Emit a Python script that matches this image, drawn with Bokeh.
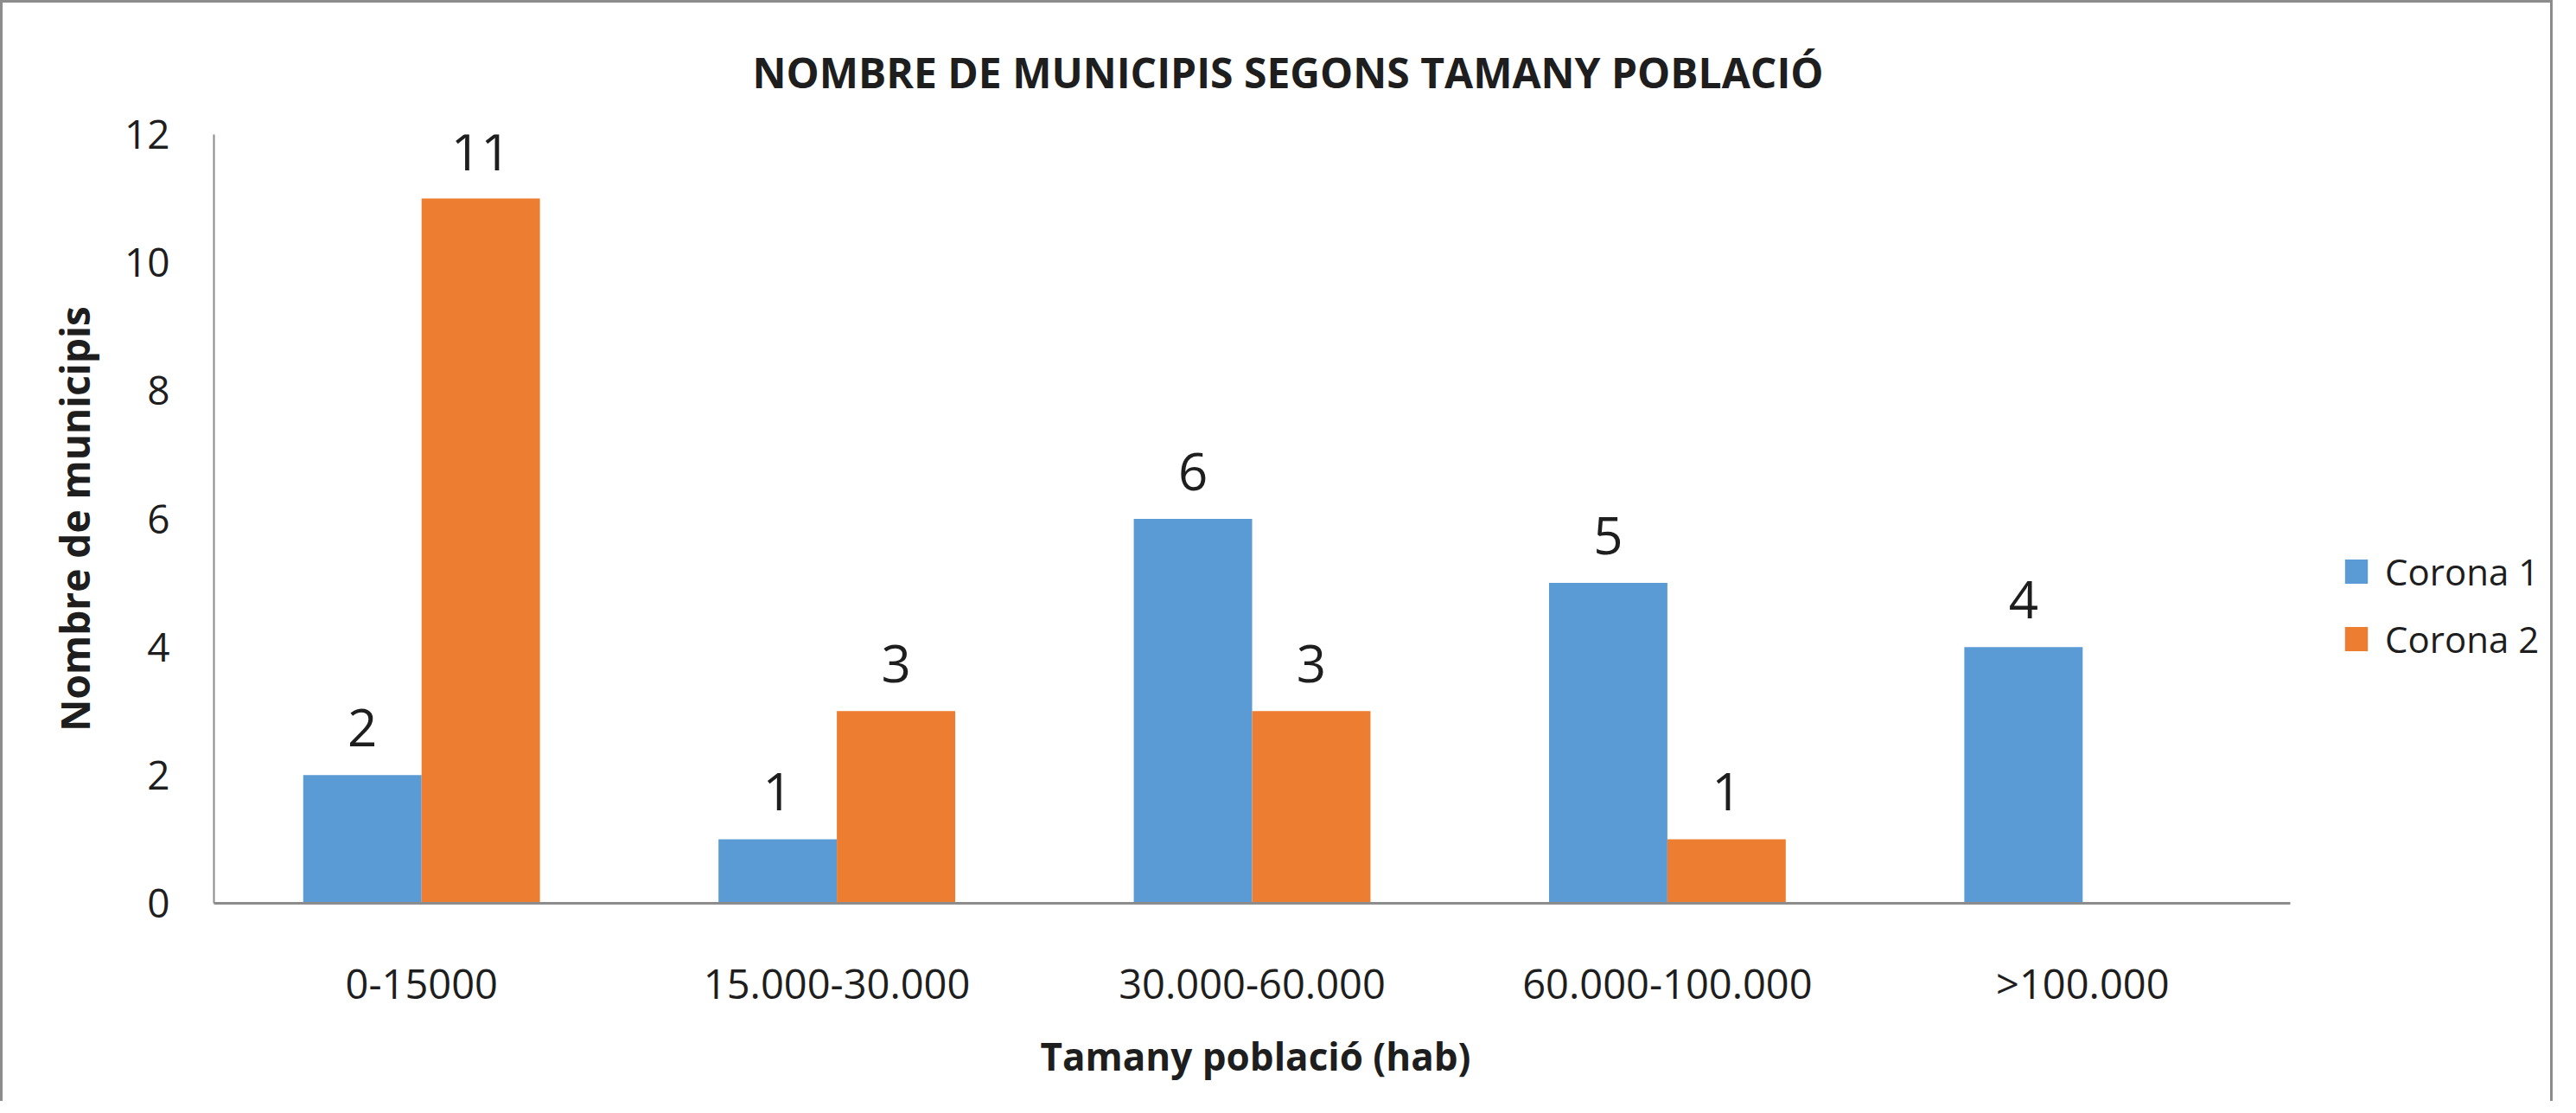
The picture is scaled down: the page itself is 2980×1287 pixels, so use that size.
from bokeh.plotting import figure
from bokeh.layouts import column
from bokeh.models import (ColumnDataSource, Range1d, FixedTicker,
                          LabelSet, Legend, LegendItem, Title)
from bokeh.transform import dodge
from bokeh.core.properties import value
from bokeh.embed import file_html
from bokeh.resources import INLINE

# ---- data ----
categories = ["0-15000", "15.000-30.000", "30.000-60.000", "60.000-100.000", ">100.000"]
corona1 = [2, 1, 6, 5, 4]
corona2 = [11, 3, 3, 1, 0]
series_names = ["Corona 1", "Corona 2"]
y_ticks = [0, 2, 4, 6, 8, 10, 12]
title_text = "NOMBRE DE MUNICIPIS SEGONS TAMANY POBLACIÓ"
x_title = "Tamany població  (hab)"
y_title = "Nombre de municipis"

BLUE = "#5B9BD5"
ORANGE = "#ED7D31"
TXT = "#1e1e1e"
GRAY = "#8c8c8c"
FONT = "Open Sans"

# ---- layout (pixels) ----
W, H = 2947, 1270
LEFT, TOP, BOTTOM = 244, 152, 229
AXIS_PX = 2402                      # width covered by the 5 categories
frame_w = W - LEFT
n = len(categories)
xmax = n * frame_w / AXIS_PX        # extra room on the right for the legend

p = figure(x_range=Range1d(0, xmax), y_range=Range1d(0, 12),
           width=W, height=H, output_backend="svg", toolbar_location=None,
           min_border_left=LEFT, min_border_right=0,
           min_border_top=TOP, min_border_bottom=BOTTOM)
p.outline_line_color = None
p.grid.grid_line_color = None
p.background_fill_color = "white"
p.border_fill_color = "white"

centers = [i + 0.5 for i in range(n)]
src = ColumnDataSource(dict(xc=centers, c1=corona1, c2=corona2))
bw = 0.285
r1 = p.vbar(x=dodge("xc", -bw / 2), top="c1", width=bw, bottom=0,
            source=src, fill_color=BLUE, line_color=None)
r2 = p.vbar(x=dodge("xc", bw / 2), top="c2", width=bw, bottom=0,
            source=src, fill_color=ORANGE, line_color=None)

# data labels (non-zero values only)
for vals, off in ((corona1, -bw / 2), (corona2, bw / 2)):
    xs = [c for c, v in zip(centers, vals) if v > 0]
    vs = [v for v in vals if v > 0]
    ls = ColumnDataSource(dict(xc=xs, v=vs, t=[str(v) for v in vs]))
    p.add_layout(LabelSet(x=dodge("xc", off), y="v", text="t", source=ls,
                          y_offset=33, text_align="center", text_baseline="alphabetic",
                          text_font=value(FONT), text_font_size="60px", text_color=TXT))

# title
p.title.text = title_text
p.title.align = "left"
p.title.offset = 623
p.title.vertical_align = "bottom"
p.title.standoff = 80
p.title.text_font = FONT
p.title.text_font_style = "bold"
p.title.text_font_size = "48px"
p.title.text_color = TXT

# axes
p.yaxis.ticker = FixedTicker(ticks=y_ticks)
p.yaxis.major_tick_line_color = None
p.yaxis.minor_tick_line_color = None
p.yaxis.axis_line_color = GRAY
p.yaxis.axis_line_width = 2
p.yaxis.major_label_standoff = 45
p.yaxis.major_label_text_font = FONT
p.yaxis.major_label_text_font_size = "46px"
p.yaxis.major_label_text_color = TXT
p.yaxis.axis_label = y_title
p.yaxis.axis_label_text_font = FONT
p.yaxis.axis_label_text_font_style = "bold"
p.yaxis.axis_label_text_font_size = "46px"
p.yaxis.axis_label_text_color = TXT
p.yaxis.axis_label_standoff = 24

p.xaxis.ticker = FixedTicker(ticks=centers)
p.xaxis.major_label_overrides = {c: lab for c, lab in zip(centers, categories)}
p.xaxis.bounds = (0, n)
p.xaxis.major_tick_line_color = None
p.xaxis.minor_tick_line_color = None
p.xaxis.axis_line_color = GRAY
p.xaxis.axis_line_width = 3
p.xaxis.major_label_standoff = 54
p.xaxis.major_label_text_font = FONT
p.xaxis.major_label_text_font_size = "47px"
p.xaxis.major_label_text_color = TXT

# x-axis title, centred under the category area
p.add_layout(Title(text=x_title, align="left", offset=956, standoff=34,
                   text_font=FONT, text_font_style="bold", text_font_size="44px",
                   text_color=TXT), "below")

# legend
legend = Legend(items=[LegendItem(label=series_names[0], renderers=[r1]),
                       LegendItem(label=series_names[1], renderers=[r2])],
                location=(AXIS_PX + 60, 277), orientation="vertical",
                glyph_width=33, glyph_height=35, label_standoff=17, spacing=21,
                padding=0, margin=0, border_line_color=None, background_fill_alpha=0,
                label_text_font=FONT, label_text_font_size="42px", label_text_color=TXT)
p.add_layout(legend, "center")

layout = column(p, styles={"border-left": f"3px solid {GRAY}",
                           "border-top": f"3px solid {GRAY}",
                           "border-right": f"3px solid {GRAY}"})

open("out.html", "w").write(file_html(layout, INLINE))
